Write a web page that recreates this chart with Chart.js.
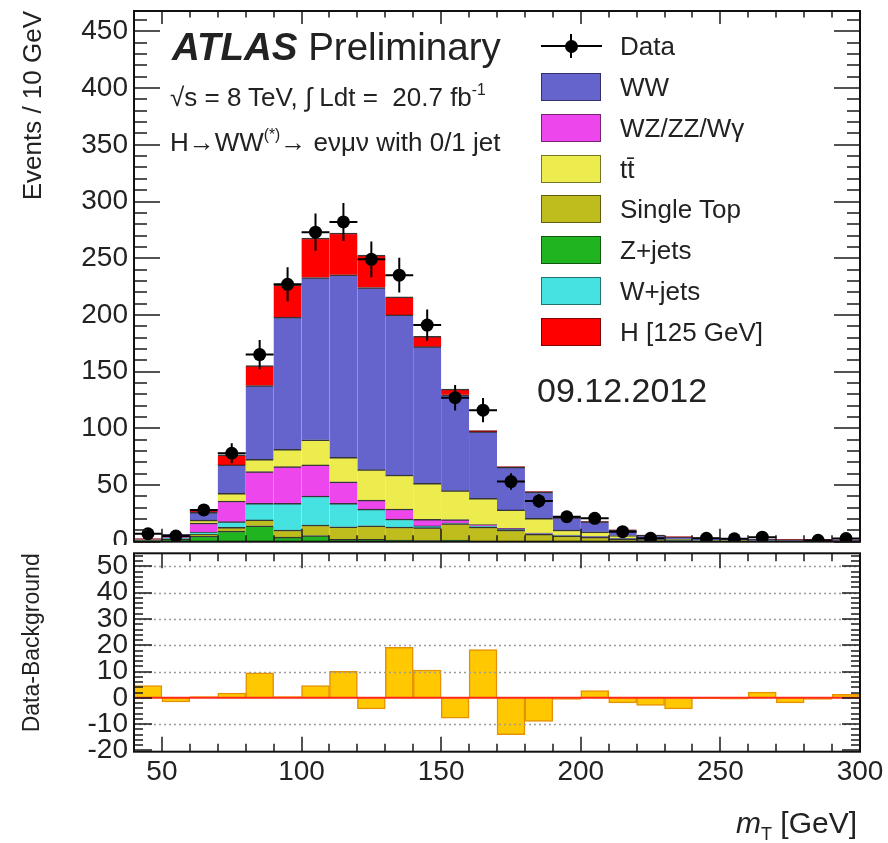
<!DOCTYPE html>
<html>
<head>
<meta charset="utf-8">
<script src="https://cdn.jsdelivr.net/npm/chart.js@4.4.0/dist/chart.umd.min.js"></script>
<style>
html,body{margin:0;padding:0;background:#fff;}
#wrap{position:relative;width:888px;height:843px;overflow:hidden;background:#fff;font-family:"Liberation Sans",Arial,Helvetica,sans-serif;color:#222;}
canvas{position:absolute;left:0;}
#c1{top:0;z-index:1;}
#c2{top:545px;z-index:2;background:#fff;}
.ov{position:absolute;white-space:nowrap;z-index:5;line-height:1;}
.box{position:absolute;left:541px;width:58px;height:26px;border:1.5px solid rgba(0,0,0,0.5);z-index:5;}
.lt{position:absolute;left:620px;height:29px;line-height:29px;font-size:26px;white-space:nowrap;z-index:5;}
sup{font-size:60%;vertical-align:top;position:relative;top:-2px;}
</style>
</head>
<body>
<div id="wrap">
<canvas id="c1" width="888" height="570" style="width:888px;height:570px"></canvas>
<canvas id="c2" width="888" height="298" style="width:888px;height:298px"></canvas>

<div class="ov" style="left:172px;top:28px;font-size:38.5px;"><b><i>ATLAS</i></b> Preliminary</div>
<div class="ov" style="left:170px;top:84px;font-size:26px;">√s = 8 TeV, ∫ Ldt =&nbsp; 20.7 fb<sup>-1</sup></div>
<div class="ov" style="left:170px;top:129px;font-size:26px;">H→WW<sup>(*)</sup>→ eνμν with 0/1 jet</div>
<div class="ov" style="left:537px;top:373px;font-size:34px;">09.12.2012</div>
<div class="ov" style="left:736px;top:808px;font-size:30px;"><i>m</i><sub style="font-size:60%;">T</sub> [GeV]</div>

<div id="legend"></div>
</div>

<script>
// ---------------- data ----------------
const binLowEdges = [40,50,60,70,80,90,100,110,120,130,140,150,160,170,180,190,200,210,220,230,240,250,260,270,280,290];
const binWidth = 10;

const seriesLabels = ['Z+jets','Single Top','W+jets','WZ/ZZ/Wγ','tt̄','WW','H [125 GeV]'];
const seriesColors = ['#20b420','#bfbd1e','#46e2e2','#ec46ec','#ecec4e','#6464cc','#ff0000'];

const zjets     = [0.8,2,5,9.4,14,4,5.5,2,2,1.5,1,1.5,0.5,0.3,0.2,0.1,0.1,0,0,0,0,0,0,0,0,0];
const singleTop = [0.2,0.5,1.5,3.3,5.2,6.3,9.2,11.2,12,11.5,11.4,14.5,12.5,10,6.5,5,4,2.5,1.5,1,0.5,0.4,0.3,0.3,0.2,0.2];
const wjets     = [0.4,1,2,5,14.7,23.6,25.6,20.7,14.7,7,1.5,0.5,0.5,0.5,0.3,0.3,0.2,0.2,0.1,0,0,0,0,0,0,0];
const wzzzwg    = [0.5,1.5,8,18.2,27.9,32.3,27.4,19,8,8.8,5.8,3,1.5,1,0.5,0.5,0.5,0.3,0.3,0.2,0.2,0.2,0.1,0.1,0.1,0.1];
const ttbar     = [0.2,0.5,2.5,6.8,10.9,15.3,22.1,21.6,26.8,30,31.8,25.5,23.3,16.2,13.1,4.4,4,2.5,1.5,1,0.5,0.6,0.4,0.3,0.3,0.2];
const ww        = [0.4,1,7,25,65,116.5,143.2,160.9,160.7,141.2,120.5,84.5,58.7,37.7,23.2,11,9,4.8,2.3,2,2,1.8,1.4,1.2,1.1,1.0];
const higgs     = [0,0,1,8.8,17.6,28.6,34.8,36.8,28.5,16,9,5,1,0.5,0.3,0.2,0.2,0.2,0.1,0,0,0,0,0,0,0];

const dataEvents = [7,5,28,78,165,227,273,282,249,235,191,127,116,53,36,22,20.6,8.8,3,null,3,2.5,4,null,1.2,2.8];

const dataMinusBkg = [4.7,-1.6,0.5,1.8,9.5,0.5,4.7,10.1,-4.2,19.2,10.6,-7.7,18.4,-14,-9,-0.6,2.8,-1.9,-2.9,-4.2,-0.3,-0.5,2.2,-1.9,-0.6,1.3];

const xTicks = [50,100,150,200,250,300];
const yTicksMain = [0,50,100,150,200,250,300,350,400,450];
const yTicksRatio = [-20,-10,0,10,20,30,40,50];

// ---------------- helpers ----------------
const FONT = '"Liberation Sans", Arial, Helvetica, sans-serif';
const binCenters = binLowEdges.map(e => e + binWidth / 2);
const toPoints = arr => arr.map((v, i) => ({x: binCenters[i], y: v}));
const stackSeries = [zjets, singleTop, wjets, wzzzwg, ttbar, ww, higgs];

const frameTicks = {
  id: 'frameTicks',
  afterDraw(chart, args, o) {
    const {ctx, chartArea: a} = chart;
    const xs = chart.scales.x, ys = chart.scales.y;
    const isMult = (v, s) => Math.abs(v / s - Math.round(v / s)) < 1e-6;
    ctx.save();
    ctx.strokeStyle = '#1a1a1a';
    ctx.lineWidth = 1.5;
    ctx.beginPath();
    for (let k = Math.ceil(xs.min / o.xMinor - 1e-9); k * o.xMinor <= xs.max + 1e-9; k++) {
      const v = k * o.xMinor;
      const p = Math.round(xs.getPixelForValue(v));
      const L = isMult(v, o.xMajor) ? o.xMajLen : o.xMinLen;
      ctx.moveTo(p, a.top); ctx.lineTo(p, a.top + L);
      ctx.moveTo(p, a.bottom); ctx.lineTo(p, a.bottom - L);
    }
    for (let k = Math.ceil(ys.min / o.yMinor - 1e-9); k * o.yMinor <= ys.max + 1e-9; k++) {
      const v = k * o.yMinor;
      const p = Math.round(ys.getPixelForValue(v));
      const L = isMult(v, o.yMajor) ? o.yMajLen : o.yMinLen;
      ctx.moveTo(a.left, p); ctx.lineTo(a.left + L, p);
      ctx.moveTo(a.right, p); ctx.lineTo(a.right - L, p);
    }
    ctx.stroke();
    ctx.lineWidth = 2;
    ctx.strokeStyle = '#111';
    ctx.strokeRect(a.left, a.top, a.width, a.height);
    ctx.restore();
  }
};

const errorBars = {
  id: 'errorBars',
  beforeDatasetDraw(chart, args) {
    const ds = chart.data.datasets[args.index];
    if (!ds.errorBars) return;
    const {ctx, chartArea: a} = chart;
    const xs = chart.scales.x, ys = chart.scales.y;
    ctx.save();
    ctx.beginPath(); ctx.rect(a.left, a.top, a.width, a.height); ctx.clip();
    ctx.strokeStyle = '#000';
    ctx.lineWidth = 2;
    ctx.beginPath();
    ds.data.forEach(pt => {
      if (pt.y === null) return;
      const e = Math.sqrt(pt.y);
      const xc = xs.getPixelForValue(pt.x), yc = ys.getPixelForValue(pt.y);
      ctx.moveTo(xs.getPixelForValue(pt.x - binWidth / 2), yc);
      ctx.lineTo(xs.getPixelForValue(pt.x + binWidth / 2), yc);
      ctx.moveTo(xc, ys.getPixelForValue(pt.y - e));
      ctx.lineTo(xc, ys.getPixelForValue(pt.y + e));
    });
    ctx.stroke();
    ctx.restore();
  }
};

const ratioGrid = {
  id: 'ratioGrid',
  afterDatasetsDraw(chart) {
    const {ctx, chartArea: a} = chart;
    const ys = chart.scales.y;
    ctx.save();
    ctx.strokeStyle = '#9c9c9c';
    ctx.lineWidth = 1.5;
    ctx.setLineDash([2, 3]);
    ctx.beginPath();
    yTicksRatio.forEach(v => {
      if (v === 0 || v <= ys.min + 1) return;
      const p = Math.round(ys.getPixelForValue(v)) + 0.5;
      ctx.moveTo(a.left, p); ctx.lineTo(a.right, p);
    });
    ctx.stroke();
    ctx.setLineDash([]);
    ctx.strokeStyle = '#ff2a1a';
    ctx.lineWidth = 2;
    ctx.beginPath();
    const z = ys.getPixelForValue(0);
    ctx.moveTo(a.left, z); ctx.lineTo(a.right, z);
    ctx.stroke();
    ctx.restore();
  }
};

const noPad = s => { s.paddingTop = 0; s.paddingBottom = 0; s.paddingLeft = 0; s.paddingRight = 0; };
const tickFont = {family: FONT, size: 28};

// ---------------- main panel ----------------
const mainDatasets = stackSeries.map((arr, i) => ({
  type: 'bar',
  label: seriesLabels[i],
  data: toPoints(arr),
  backgroundColor: seriesColors[i],
  borderColor: 'rgba(20,20,20,0.85)',
  borderWidth: {top: 1.5, right: 0, bottom: 0, left: 0},
  borderSkipped: false,
  stack: 'bkg',
  barPercentage: 1.0,
  categoryPercentage: 1.0
}));
mainDatasets.push({
  type: 'scatter',
  label: 'Data',
  data: toPoints(dataEvents),
  backgroundColor: '#000',
  borderWidth: 0,
  pointRadius: 6.5,
  pointHoverRadius: 6.5,
  stack: 'data',
  order: -1,
  errorBars: true
});

new Chart(document.getElementById('c1'), {
  type: 'bar',
  data: {datasets: mainDatasets},
  plugins: [errorBars, frameTicks],
  options: {
    responsive: false,
    devicePixelRatio: 1,
    animation: false,
    events: [],
    layout: {padding: {left: 0, right: 28, top: 11, bottom: 28.3}},
    plugins: {
      legend: {display: false},
      tooltip: {enabled: false},
      frameTicks: {xMinor: 10, xMajor: 50, xMinLen: 6.5, xMajLen: 13, yMinor: 10, yMajor: 50, yMinLen: 13, yMajLen: 26}
    },
    scales: {
      x: {
        type: 'linear', min: 40, max: 300, offset: false, stacked: true, display: false,
        grid: {display: false},
        afterBuildTicks: s => { s.ticks = xTicks.map(v => ({value: v})); }
      },
      y: {
        type: 'linear', min: 0, max: 468, stacked: true,
        grid: {display: false, drawTicks: false},
        border: {display: false},
        ticks: {font: tickFont, color: '#222', padding: 6, autoSkip: false},
        afterBuildTicks: s => { s.ticks = yTicksMain.map(v => ({value: v})); },
        afterFit: s => { s.width = 134; noPad(s); },
        title: {display: true, text: 'Events / 10 GeV', align: 'end', color: '#222',
                font: {family: FONT, size: 26}, padding: {top: 18, bottom: 0}}
      }
    }
  }
});

// ---------------- ratio panel ----------------
new Chart(document.getElementById('c2'), {
  type: 'bar',
  data: {
    datasets: [{
      label: 'Data-Background',
      data: toPoints(dataMinusBkg),
      backgroundColor: '#ffc800',
      borderColor: '#e69200',
      borderWidth: 1.5,
      borderSkipped: 'start',
      barPercentage: 1.0,
      categoryPercentage: 1.0
    }]
  },
  plugins: [ratioGrid, frameTicks],
  options: {
    responsive: false,
    devicePixelRatio: 1,
    animation: false,
    events: [],
    layout: {padding: {left: 0, right: 28, top: 8.3, bottom: 0}},
    plugins: {
      legend: {display: false},
      tooltip: {enabled: false},
      frameTicks: {xMinor: 10, xMajor: 50, xMinLen: 8, xMajLen: 15, yMinor: 2, yMajor: 10, yMinLen: 9, yMajLen: 18}
    },
    scales: {
      x: {
        type: 'linear', min: 40, max: 300, offset: false,
        grid: {display: false, drawTicks: false},
        border: {display: false},
        ticks: {font: tickFont, color: '#222', padding: 4, autoSkip: false, maxRotation: 0},
        afterBuildTicks: s => { s.ticks = xTicks.map(v => ({value: v})); },
        afterFit: s => { s.height = 91.3; noPad(s); }
      },
      y: {
        type: 'linear', min: -20.5, max: 55,
        grid: {display: false, drawTicks: false},
        border: {display: false},
        ticks: {font: tickFont, color: '#222', padding: 6, autoSkip: false},
        afterBuildTicks: s => { s.ticks = yTicksRatio.map(v => ({value: v})); },
        afterFit: s => { s.width = 134; noPad(s); },
        title: {display: true, text: 'Data-Background', align: 'end', color: '#222',
                font: {family: FONT, size: 23}, padding: {top: 19, bottom: 0}}
      }
    }
  }
});

// ---------------- legend (HTML) ----------------
const legendOrder = [5, 3, 4, 1, 0, 2, 6]; // WW, WZ/ZZ/Wγ, tt̄, Single Top, Z+jets, W+jets, H
const leg = document.getElementById('legend');
let html = '';
html += '<div style="position:absolute;left:541px;top:45px;width:61px;height:2px;background:#000;z-index:5"></div>';
html += '<div style="position:absolute;left:570px;top:34px;width:2px;height:24px;background:#000;z-index:5"></div>';
html += '<div style="position:absolute;left:564.5px;top:39.5px;width:13px;height:13px;border-radius:50%;background:#000;z-index:5"></div>';
html += '<div class="lt" style="top:32px;">Data</div>';
legendOrder.forEach((si, r) => {
  const top = 73 + r * 40.8;
  html += '<div class="box" style="top:' + top + 'px;background:' + seriesColors[si] + '"></div>';
  html += '<div class="lt" style="top:' + top + 'px;">' + seriesLabels[si] + '</div>';
});
leg.innerHTML = html;
</script>
</body>
</html>
